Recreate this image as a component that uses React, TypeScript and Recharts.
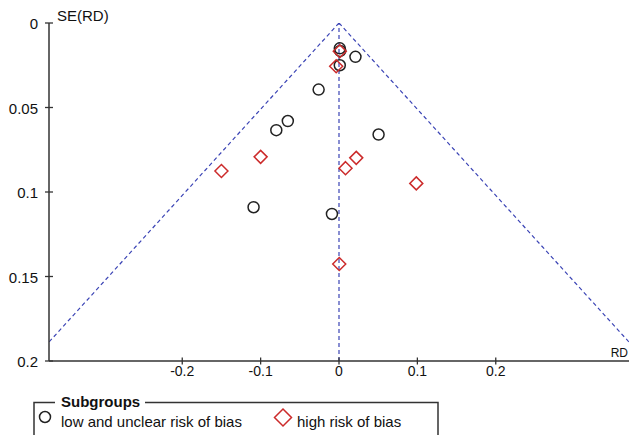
import React from "react";
import {
  ScatterChart,
  Scatter,
  XAxis,
  YAxis,
  ReferenceLine,
} from "recharts";

// low and unclear risk of bias (circles)
const lowRiskRD = [0.001, 0.0015, 0.021, 0.001, -0.026, -0.0653, -0.08, 0.0505, -0.109, -0.009];
const lowRiskSE = [0.015, 0.0165, 0.02, 0.025, 0.0394, 0.058, 0.0634, 0.066, 0.109, 0.113];

// high risk of bias (diamonds)
const highRiskRD = [0.001, -0.0036, -0.1, -0.15, 0.0083, 0.022, 0.0986, 0.0003];
const highRiskSE = [0.0167, 0.0256, 0.0792, 0.0876, 0.0859, 0.0798, 0.0949, 0.1426];

const xTicks = [-0.2, -0.1, 0, 0.1, 0.2];
const yTicks = [0, 0.05, 0.1, 0.15, 0.2];

// pseudo 95% confidence limits of the funnel
const funnelLeft = [
  { x: 0, y: 0 },
  { x: -0.392, y: 0.2 },
];
const funnelRight = [
  { x: 0, y: 0 },
  { x: 0.392, y: 0.2 },
];

const lowRisk = lowRiskRD.map((rd, i) => ({ rd, se: lowRiskSE[i] }));
const highRisk = highRiskRD.map((rd, i) => ({ rd, se: highRiskSE[i] }));

const FONT = "'Liberation Sans', Arial, sans-serif";
const AXIS = "#333";
const BLUE = "#3b44b5";
const RED = "#cc2b2b";
const DARK = "#222";

const XTick = ({ x, y, payload }: any) => (
  <g>
    <line x1={x} x2={x} y1={y - 3.5} y2={y + 3.5} stroke={AXIS} strokeWidth={1.3} />
    <text x={x} y={y + 15} textAnchor="middle" fontSize={14} fontFamily={FONT} fill="#111">
      {String(payload.value)}
    </text>
  </g>
);

const YTick = ({ x, y, payload }: any) => (
  <g>
    <line x1={x - 4} x2={x + 4} y1={y} y2={y} stroke={AXIS} strokeWidth={1.3} />
    <text x={x - 11} y={y + 6} textAnchor="end" fontSize={15} fontFamily={FONT} fill="#111">
      {String(payload.value)}
    </text>
  </g>
);

const CircleDot = (p: any) => (
  <circle cx={p.cx} cy={p.cy} r={5.5} fill="none" stroke={DARK} strokeWidth={1.5} />
);

const DiamondDot = (p: any) => (
  <polygon
    points={`${p.cx},${p.cy - 6.5} ${p.cx + 6.5},${p.cy} ${p.cx},${p.cy + 6.5} ${p.cx - 6.5},${p.cy}`}
    fill="none"
    stroke={RED}
    strokeWidth={1.5}
  />
);

export default function App() {
  return (
    <div style={{ position: "absolute", left: 0, top: 0, width: 629, height: 435, background: "#fff" }}>
      <ScatterChart width={629} height={435} margin={{ top: 23, right: 0, bottom: 44, left: 0 }}>
        <XAxis
          type="number"
          dataKey="rd"
          domain={[-0.37, 0.37]}
          ticks={xTicks}
          interval={0}
          allowDataOverflow
          height={30}
          tickSize={0}
          tickMargin={0}
          tickLine={false}
          tick={<XTick />}
          axisLine={{ stroke: AXIS, strokeWidth: 1.5 }}
        />
        <YAxis
          type="number"
          dataKey="se"
          reversed
          domain={[0, 0.2]}
          ticks={yTicks}
          interval={0}
          allowDataOverflow
          width={49}
          tickSize={0}
          tickMargin={0}
          tickLine={false}
          tick={<YTick />}
          axisLine={{ stroke: AXIS, strokeWidth: 1.5 }}
        />
        <ReferenceLine
          segment={funnelLeft}
          ifOverflow="hidden"
          stroke={BLUE}
          strokeWidth={1.2}
          strokeDasharray="4 3"
        />
        <ReferenceLine
          segment={funnelRight}
          ifOverflow="hidden"
          stroke={BLUE}
          strokeWidth={1.2}
          strokeDasharray="4 3"
        />
        <ReferenceLine x={0} stroke={BLUE} strokeWidth={1.2} strokeDasharray="4 3" />
        <Scatter
          name="low and unclear risk of bias"
          data={lowRisk}
          shape={<CircleDot />}
          isAnimationActive={false}
        />
        <Scatter
          name="high risk of bias"
          data={highRisk}
          shape={<DiamondDot />}
          isAnimationActive={false}
        />
      </ScatterChart>
      <svg
        width={629}
        height={435}
        style={{ position: "absolute", left: 0, top: 0, pointerEvents: "none" }}
        fontFamily={FONT}
      >
        <text x={57} y={21} fontSize={15} fill="#111">SE(RD)</text>
        <text x={628} y={357} fontSize={12} textAnchor="end" fill="#111">RD</text>
        {/* legend box */}
        <polyline
          points="55,402.5 34,402.5 34,437"
          fill="none"
          stroke={AXIS}
          strokeWidth={1.5}
        />
        <polyline
          points="145,402.5 438,402.5 438,437"
          fill="none"
          stroke={AXIS}
          strokeWidth={1.5}
        />
        <text x={61} y={407} fontSize={15} fontWeight="bold" fill="#111">Subgroups</text>
        <circle cx={45} cy={417} r={5.5} fill="none" stroke={DARK} strokeWidth={1.5} />
        <text x={61} y={427} fontSize={15} fill="#111">low and unclear risk of bias</text>
        <polygon
          points="283,409 291.5,417.5 283,426 274.5,417.5"
          fill="none"
          stroke={RED}
          strokeWidth={1.5}
        />
        <text x={297} y={427} fontSize={15} fill="#111">high risk of bias</text>
      </svg>
    </div>
  );
}
